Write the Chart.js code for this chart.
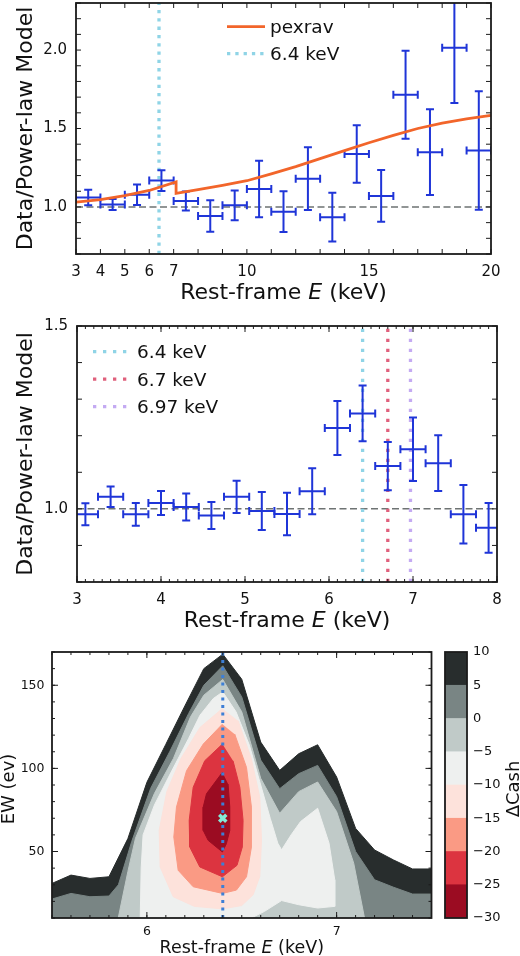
<!DOCTYPE html>
<html lang="en">
<head>
<meta charset="UTF-8">
<title>Fe K residuals and ΔCash map</title>
<script src="https://cdn.jsdelivr.net/npm/chart.js"></script>
<style>
  html, body { margin: 0; padding: 0; background: #fff; }
  body { position: relative; width: 520px; height: 956px; overflow: hidden; }
  .panel { position: absolute; }
</style>
</head>
<body>
<div class="panel" style="left:0; top:0; width:520px; height:305px;"><canvas id="topChart"></canvas></div>
<div class="panel" style="left:0; top:305px; width:520px; height:335px;"><canvas id="midChart"></canvas></div>
<div class="panel" style="left:0; top:640px; width:440px; height:316px;"><canvas id="mapChart"></canvas></div>
<div class="panel" style="left:440px; top:640px; width:80px; height:316px;"><canvas id="barChart"></canvas></div>
<script>
// ---------- top panel: 3-20 keV, ratio to power law ----------
const topXRange = [3, 20];
const topYRange = [0.7, 2.3];
const topXLabels = [3, 4, 5, 6, 7, 10, 15, 20];
const topYLabels = [1.0, 1.5, 2.0];
const topE = [3.5, 4.5, 5.5, 6.5, 7.5, 8.5, 9.5, 10.5, 11.5, 12.5, 13.5, 14.5, 15.5, 16.5, 17.5, 18.5, 19.5];
const topEerr = [0.5, 0.5, 0.5, 0.5, 0.5, 0.5, 0.5, 0.5, 0.5, 0.5, 0.5, 0.5, 0.5, 0.5, 0.5, 0.5, 0.5];
const topRatio = [1.06, 1.015, 1.078, 1.168, 1.038, 0.942, 1.01, 1.115, 0.97, 1.18, 0.935, 1.337, 1.07, 1.715, 1.349, 2.015, 1.36];
const topRatioErr = [0.05, 0.035, 0.065, 0.066, 0.06, 0.1, 0.095, 0.18, 0.13, 0.2, 0.155, 0.183, 0.165, 0.28, 0.273, 0.353, 0.378];
const pexE = [3, 4, 5, 6, 7.1, 7.1, 8, 9, 10, 11, 12, 13, 14, 15, 16, 17, 18, 19, 20];
const pexRatio = [1.03, 1.046, 1.072, 1.105, 1.16, 1.086, 1.11, 1.137, 1.167, 1.211, 1.257, 1.308, 1.359, 1.409, 1.456, 1.5, 1.534, 1.561, 1.584];
const topLineE = 6.4;

// ---------- middle panel: 3-8 keV ----------
const midXRange = [3, 8];
const midYRange = [0.8, 1.5];
const midXLabels = [3, 4, 5, 6, 7, 8];
const midYLabels = [1.0, 1.5];
const midE = [3.1, 3.4, 3.7, 4.0, 4.3, 4.6, 4.9, 5.2, 5.5, 5.8, 6.1, 6.4, 6.7, 7.0, 7.3, 7.6, 7.9];
const midEerr = [0.15, 0.15, 0.15, 0.15, 0.15, 0.15, 0.15, 0.15, 0.15, 0.15, 0.15, 0.15, 0.15, 0.15, 0.15, 0.15, 0.15];
const midRatio = [0.985, 1.033, 0.985, 1.016, 1.005, 0.982, 1.033, 0.994, 0.986, 1.048, 1.221, 1.261, 1.117, 1.163, 1.125, 0.985, 0.948];
const midRatioErr = [0.03, 0.028, 0.031, 0.033, 0.037, 0.037, 0.044, 0.052, 0.058, 0.063, 0.074, 0.076, 0.066, 0.087, 0.076, 0.08, 0.068];
const lineE = [6.4, 6.7, 6.97];
const lineNames = ['6.4 keV', '6.7 keV', '6.97 keV'];
const lineColors = ['#8fd4e6', '#e0607c', '#c4aaf2'];

// ---------- bottom panel: ΔCash map over (E, EW) ----------
const mapXRange = [5.5, 7.5];
const mapYRange = [10, 170];
const mapXLabels = [6, 7];
const mapYLabels = [50, 100, 150];
const cashLevels = [-30, -25, -20, -15, -10, -5, 0, 5, 10];
const cashColors = ['#9b0c22', '#dc3440', '#fa9a84', '#fde2db', '#eef0ef', '#c0cac8', '#798584', '#282d2d'];
// contour lines ΔCash = level, vertices [E keV, EW eV]; region inside is ΔCash <= level
const cont10 = [[5.5, 0], [5.5, 30.8], [5.6, 35.8], [5.7, 33.8], [5.8, 34.8], [5.9, 57.8], [6.0, 91.6], [6.1, 114.5], [6.2, 137.5], [6.3, 160], [6.4, 168.7], [6.5, 153.6], [6.6, 115.8], [6.7, 98.8], [6.8, 108.8], [6.9, 114.2], [7.0, 94.8], [7.1, 63.9], [7.2, 50.9], [7.3, 44.9], [7.4, 39.5], [7.5, 39.5], [7.5, 0]];
const cont5 = [[5.5, 0], [5.5, 21.4], [5.6, 24.8], [5.7, 22.8], [5.8, 23.2], [5.85, 30], [5.92, 56], [6.02, 88], [6.12, 110], [6.22, 133], [6.3, 150], [6.4, 161.7], [6.5, 143], [6.6, 105], [6.7, 87.8], [6.8, 96.8], [6.9, 101.8], [7.0, 83], [7.1, 50], [7.2, 33], [7.3, 28.5], [7.4, 24.4], [7.5, 24.4], [7.5, 0]];
const cont0 = [[5.849, 0], [5.849, 10], [5.9, 38], [5.94, 58], [6.04, 85], [6.14, 106], [6.23, 131], [6.3, 144], [6.4, 153.5], [6.5, 134], [6.6, 94], [6.7, 73], [6.8, 86], [6.9, 91.8], [7.0, 74], [7.09, 43], [7.147, 10], [7.147, 0]];
const contM5 = [[5.965, 0], [5.965, 10], [5.97, 40], [5.98, 60], [6.04, 78], [6.12, 96], [6.22, 118], [6.28, 132], [6.35, 142], [6.4, 146], [6.47, 134], [6.54, 114], [6.6, 90], [6.65, 70], [6.69, 55], [6.71, 51], [6.76, 60], [6.81, 68], [6.9, 76], [6.96, 55], [6.99, 33], [6.99, 17], [6.9, 16], [6.8, 18], [6.71, 20.5], [6.62, 14], [6.55, 10], [6.55, 0]];
const contM10 = [[6.398, 136], [6.28, 124.6], [6.18, 106], [6.105, 86], [6.065, 62.7], [6.07, 40.7], [6.139, 22.8], [6.25, 17], [6.398, 15.5], [6.5, 17.5], [6.56, 24], [6.595, 35], [6.604, 56.7], [6.595, 82.7], [6.55, 106], [6.481, 128.6]];
const contM15 = [[6.398, 126.6], [6.297, 114.6], [6.209, 98.6], [6.156, 76.7], [6.142, 58.7], [6.165, 38.7], [6.244, 28.8], [6.398, 24.8], [6.472, 26.8], [6.525, 34.8], [6.551, 52.7], [6.551, 76.7], [6.525, 100.6], [6.463, 120.6]];
const contM20 = [[6.398, 114.6], [6.305, 104.6], [6.244, 88.6], [6.223, 68.7], [6.226, 52.7], [6.279, 40.7], [6.398, 34.8], [6.475, 41.7], [6.503, 52.7], [6.507, 68.7], [6.49, 88.6], [6.454, 104.6]];
const contM25 = [[6.398, 97.6], [6.314, 84.7], [6.297, 76.7], [6.297, 62.7], [6.323, 56.7], [6.398, 49.7], [6.419, 54.7], [6.437, 62.7], [6.437, 76.7], [6.428, 90.6]];
const contours = [cont10, cont5, cont0, contM5, contM10, contM15, contM20, contM25];
const contourLevels = [10, 5, 0, -5, -10, -15, -20, -25];
const mapLineE = 6.4;
const bestFit = [6.4, 70];

const FONT = '"DejaVu Sans", sans-serif';
Chart.defaults.font.family = FONT;
Chart.defaults.color = '#111';

// axis with fixed labelled ticks and fixed size, no grid
function linAxis(range, labels, fmt, size, pad, fit) {
    return {
        type: 'linear', min: range[0], max: range[1],
        grid: { display: false, drawTicks: false },
        border: { display: false },
        ticks: { autoSkip: false, maxRotation: 0, padding: pad, color: '#111', font: { size: size }, callback: fmt },
        afterBuildTicks: s => { s.ticks = labels.map(v => ({ value: v })); },
        afterFit: s => {
            fit(s);
            // labels never sit on the plot corners, so no extra room for them
            s.paddingTop = 0; s.paddingBottom = 0; s.paddingLeft = 0; s.paddingRight = 0;
        }
    };
}

// frame round the plot and inward tick marks on all four sides
function frameTicks(marks) {
    return {
        id: 'frameTicks',
        afterDatasetsDraw(chart) {
            const { ctx, chartArea: a, scales } = chart;
            ctx.save();
            ctx.strokeStyle = '#1b1b1b';
            ctx.lineWidth = 1;
            marks.forEach(m => {
                const s = scales[m.axis];
                const first = Math.ceil(s.min / m.step - 1e-6);
                const last = Math.floor(s.max / m.step + 1e-6);
                for (let k = first; k <= last; k++) {
                    const p = s.getPixelForValue(k * m.step);
                    ctx.beginPath();
                    if (s.isHorizontal()) {
                        ctx.moveTo(p, a.bottom); ctx.lineTo(p, a.bottom - m.len);
                        ctx.moveTo(p, a.top); ctx.lineTo(p, a.top + m.len);
                    } else {
                        ctx.moveTo(a.left, p); ctx.lineTo(a.left + m.len, p);
                        ctx.moveTo(a.right, p); ctx.lineTo(a.right - m.len, p);
                    }
                    ctx.stroke();
                }
            });
            ctx.lineWidth = 1.8;
            ctx.strokeRect(a.left, a.top, a.right - a.left, a.bottom - a.top);
            ctx.restore();
        }
    };
}

// x and y error bars with caps, for datasets flagged errorBars
const errorBars = {
    id: 'errorBars',
    afterDatasetDraw(chart, args) {
        const ds = chart.data.datasets[args.index];
        if (!ds.errorBars) return;
        const { ctx, chartArea: a, scales: { x, y } } = chart;
        const cap = 4;
        ctx.save();
        ctx.beginPath();
        ctx.rect(a.left, a.top, a.right - a.left, a.bottom - a.top);
        ctx.clip();
        ctx.strokeStyle = ds.borderColor;
        ctx.lineWidth = 2;
        ds.data.forEach(p => {
            const px = x.getPixelForValue(p.x), py = y.getPixelForValue(p.y);
            const x0 = x.getPixelForValue(p.x - p.xe), x1 = x.getPixelForValue(p.x + p.xe);
            const y0 = y.getPixelForValue(p.y - p.ye), y1 = y.getPixelForValue(p.y + p.ye);
            ctx.beginPath();
            ctx.moveTo(x0, py); ctx.lineTo(x1, py);
            ctx.moveTo(px, y0); ctx.lineTo(px, y1);
            ctx.moveTo(x0, py - cap); ctx.lineTo(x0, py + cap);
            ctx.moveTo(x1, py - cap); ctx.lineTo(x1, py + cap);
            ctx.moveTo(px - cap, y0); ctx.lineTo(px + cap, y0);
            ctx.moveTo(px - cap, y1); ctx.lineTo(px + cap, y1);
            ctx.stroke();
        });
        ctx.restore();
    }
};

// legend inside the plot, line samples taken from the datasets
function lineLegend(o) {
    return {
        id: 'lineLegend',
        afterDraw(chart) {
            const { ctx } = chart;
            ctx.save();
            ctx.font = o.size + 'px ' + FONT;
            ctx.fillStyle = '#111';
            ctx.textBaseline = 'alphabetic';
            o.items.forEach((idx, i) => {
                const ds = chart.data.datasets[idx];
                const y = o.y + i * o.gap;
                ctx.save();
                ctx.strokeStyle = ds.borderColor;
                ctx.lineWidth = ds.borderWidth;
                ctx.setLineDash(ds.borderDash || []);
                ctx.beginPath();
                ctx.moveTo(o.x, y);
                ctx.lineTo(o.x + o.len, y);
                ctx.stroke();
                ctx.restore();
                ctx.fillText(ds.label, o.x + o.len + o.pad, y + o.size * 0.35);
            });
            ctx.restore();
        }
    };
}

// axis titles, parts flagged 1 are italic
function textLabels(items) {
    return {
        id: 'textLabels',
        afterDraw(chart) {
            const { ctx, chartArea: a } = chart;
            items.forEach(t => {
                ctx.save();
                const x = t.x === 'mid' ? (a.left + a.right) / 2 : t.x;
                const y = t.y === 'mid' ? (a.top + a.bottom) / 2 : t.y;
                ctx.translate(x, y);
                if (t.rot) ctx.rotate(t.rot * Math.PI / 180);
                ctx.fillStyle = '#111';
                ctx.textBaseline = 'alphabetic';
                const fontOf = it => (it ? 'italic ' : '') + t.size + 'px ' + FONT;
                let w = 0;
                t.parts.forEach(p => { ctx.font = fontOf(p[1]); w += ctx.measureText(p[0]).width; });
                let cx = -w / 2;
                t.parts.forEach(p => {
                    ctx.font = fontOf(p[1]);
                    ctx.fillText(p[0], cx, 0);
                    cx += ctx.measureText(p[0]).width;
                });
                ctx.restore();
            });
        }
    };
}

const baseOpts = {
    responsive: true,
    maintainAspectRatio: false,
    animation: false,
    devicePixelRatio: 1,
    plugins: { legend: { display: false }, tooltip: { enabled: false } }
};
const eTitle = [['Rest-frame ', 0], ['E', 1], [' (keV)', 0]];

// top panel
new Chart(document.getElementById('topChart'), {
    type: 'scatter',
    data: {
        datasets: [
            { label: 'pexrav', data: pexE.map((e, i) => ({ x: e, y: pexRatio[i] })), showLine: true, borderColor: '#f2652a', borderWidth: 2.8, pointRadius: 0, order: 0 },
            { label: '6.4 keV', data: topYRange.map(v => ({ x: topLineE, y: v })), showLine: true, borderColor: lineColors[0], borderWidth: 3.3, borderDash: [3.3, 5], pointRadius: 0, order: 3 },
            { label: 'unity', data: topXRange.map(v => ({ x: v, y: 1 })), showLine: true, borderColor: '#6e7373', borderWidth: 1.5, borderDash: [7, 3.5], pointRadius: 0, order: 2 },
            { label: 'data', data: topE.map((e, i) => ({ x: e, y: topRatio[i], xe: topEerr[i], ye: topRatioErr[i] })), errorBars: true, borderColor: '#1f35d8', pointRadius: 0, order: 1 }
        ]
    },
    options: {
        ...baseOpts,
        layout: { padding: { left: 0, right: 29, top: 3, bottom: 0 } },
        scales: {
            x: linAxis(topXRange, topXLabels, v => String(v), 15, 9, s => { s.height = 51; }),
            y: linAxis(topYRange, topYLabels, v => v.toFixed(1), 15, 9, s => { s.width = 76; })
        }
    },
    plugins: [
        errorBars,
        frameTicks([{ axis: 'x', step: 1, len: 5 }, { axis: 'y', step: 0.1, len: 5 }]),
        lineLegend({ items: [0, 1], x: 227, y: 26.7, gap: 27, len: 38, pad: 5, size: 18.5 }),
        textLabels([
            { parts: eTitle, x: 'mid', y: 299.3, size: 22 },
            { parts: [['Data/Power-law Model', 0]], x: 32, y: 'mid', rot: -90, size: 22 }
        ])
    ]
});

// middle panel
new Chart(document.getElementById('midChart'), {
    type: 'scatter',
    data: {
        datasets: [
            ...lineE.map((e, k) => ({
                label: lineNames[k], data: midYRange.map(v => ({ x: e, y: v })), showLine: true,
                borderColor: lineColors[k], borderWidth: 3.3, borderDash: [3.3, 6.7], pointRadius: 0, order: 2
            })),
            { label: 'unity', data: midXRange.map(v => ({ x: v, y: 1 })), showLine: true, borderColor: '#6e7373', borderWidth: 1.5, borderDash: [7, 3.5], pointRadius: 0, order: 3 },
            { label: 'data', data: midE.map((e, i) => ({ x: e, y: midRatio[i], xe: midEerr[i], ye: midRatioErr[i] })), errorBars: true, borderColor: '#1f35d8', pointRadius: 0, order: 0 }
        ]
    },
    options: {
        ...baseOpts,
        layout: { padding: { left: 0, right: 23, top: 21, bottom: 0 } },
        scales: {
            x: linAxis(midXRange, midXLabels, v => String(v), 15, 9, s => { s.height = 58; }),
            y: linAxis(midYRange, midYLabels, v => v.toFixed(1), 15, 9, s => { s.width = 77; })
        }
    },
    plugins: [
        errorBars,
        frameTicks([{ axis: 'x', step: 0.1, len: 3 }, { axis: 'x', step: 1, len: 6 }, { axis: 'y', step: 0.1, len: 5 }]),
        lineLegend({ items: [0, 1, 2], x: 93, y: 46.7, gap: 27.5, len: 34, pad: 10, size: 18.5 }),
        textLabels([
            { parts: eTitle, x: 'mid', y: 321.7, size: 22 },
            { parts: [['Data/Power-law Model', 0]], x: 32, y: 'mid', rot: -90, size: 22 }
        ])
    ]
});

// bottom panel: filled contours painted from the outer level inwards
const mapSets = contours.map((c, i) => {
    const col = cashColors[cashLevels.indexOf(contourLevels[i]) - 1];
    return {
        label: 'ΔCash ≤ ' + contourLevels[i],
        data: c.map(p => ({ x: p[0], y: p[1] })),
        showLine: true, fill: 'shape', tension: 0,
        backgroundColor: col, borderColor: col, borderWidth: 1,
        pointRadius: 0, order: 20 - i
    };
});
mapSets.push({
    label: '6.4 keV', data: mapYRange.map(v => ({ x: mapLineE, y: v })), showLine: true,
    borderColor: '#3d7fd6', borderWidth: 3, borderDash: [3, 4.5], pointRadius: 0, order: 1
});
mapSets.push({
    label: 'best fit', data: [{ x: bestFit[0], y: bestFit[1] }],
    pointStyle: 'crossRot', pointRadius: 5, borderWidth: 3.5, pointBorderWidth: 3.5,
    borderColor: '#84ead8', pointBorderColor: '#84ead8', order: 0
});

new Chart(document.getElementById('mapChart'), {
    type: 'scatter',
    data: { datasets: mapSets },
    options: {
        ...baseOpts,
        layout: { padding: { left: 0, right: 8, top: 12, bottom: 0 } },
        scales: {
            x: linAxis(mapXRange, mapXLabels, v => String(v), 12.5, 6, s => { s.height = 38; }),
            y: linAxis(mapYRange, mapYLabels, v => String(v), 12.5, 7.5, s => { s.width = 52; })
        }
    },
    plugins: [
        frameTicks([{ axis: 'x', step: 0.1, len: 3 }, { axis: 'x', step: 1, len: 6 }, { axis: 'y', step: 10, len: 3 }, { axis: 'y', step: 50, len: 6 }]),
        textLabels([
            { parts: eTitle, x: 'mid', y: 313, size: 17.5 },
            { parts: [['EW (ev)', 0]], x: 14, y: 149, rot: -90, size: 18 }
        ])
    ]
});

// colour bar
new Chart(document.getElementById('barChart'), {
    type: 'bar',
    data: {
        labels: ['ΔCash'],
        datasets: cashColors.map((c, k) => ({
            label: cashLevels[k] + ' to ' + cashLevels[k + 1],
            data: [[cashLevels[k], cashLevels[k + 1]]],
            backgroundColor: c, borderWidth: 0, grouped: false,
            barPercentage: 1, categoryPercentage: 1
        }))
    },
    options: {
        ...baseOpts,
        layout: { padding: { left: 5, right: 0, top: 12, bottom: 38 } },
        scales: {
            x: { display: false },
            y: {
                ...linAxis([cashLevels[0], cashLevels[cashLevels.length - 1]], cashLevels,
                    v => v < 0 ? '\u2212' + Math.abs(v) : String(v), 13, 6, s => { s.width = 53; }),
                position: 'right'
            }
        }
    },
    plugins: [
        frameTicks([]),
        textLabels([{ parts: [['ΔCash', 0]], x: 78.5, y: 149, rot: -90, size: 18 }])
    ]
});
</script>
</body>
</html>
